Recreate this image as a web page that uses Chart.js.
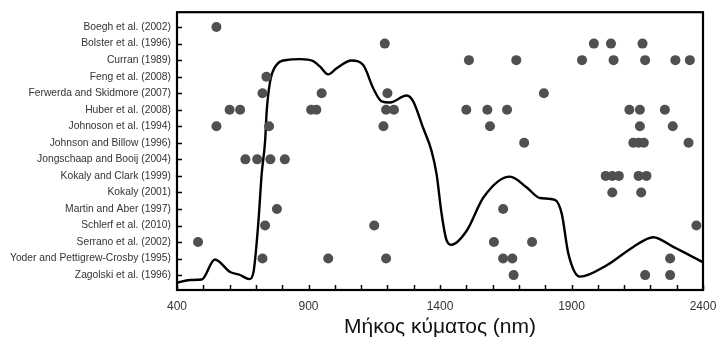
<!DOCTYPE html>
<html>
<head>
<meta charset="utf-8">
<script src="https://cdn.jsdelivr.net/npm/chart.js@4.4.1/dist/chart.umd.min.js"></script>
<style>
  html, body { margin: 0; padding: 0; background: #fff; }
  #wrap { width: 716px; height: 341px; }
</style>
</head>
<body>
<div id="wrap"><canvas id="bandsChart"></canvas></div>
<script>
// Studies (rows, top to bottom)
var studies = [
    'Boegh et al. (2002)',
    'Bolster et al. (1996)',
    'Curran (1989)',
    'Feng et al. (2008)',
    'Ferwerda and Skidmore (2007)',
    'Huber et al. (2008)',
    'Johnoson et al. (1994)',
    'Johnson and Billow (1996)',
    'Jongschaap and Booij (2004)',
    'Kokaly and Clark (1999)',
    'Kokaly (2001)',
    'Martin and Aber (1997)',
    'Schlerf et al. (2010)',
    'Serrano et al. (2002)',
    'Yoder and Pettigrew-Crosby (1995)',
    'Zagolski et al. (1996)'
];

// Wavelengths (nm) used by each study, same order as studies
var bands = [
    [550],
    [1190, 1985, 2050, 2170],
    [1510, 1690, 1940, 2060, 2180, 2295, 2350],
    [740],
    [725, 950, 1200, 1795],
    [600, 640, 910, 930, 1195, 1225, 1500, 1580, 1655, 2120, 2160, 2255],
    [550, 750, 1185, 1590, 2160, 2285],
    [1720, 2135, 2155, 2175, 2345],
    [660, 705, 755, 810],
    [2030, 2055, 2080, 2155, 2185],
    [2055, 2165],
    [780, 1640],
    [735, 1150, 2375],
    [480, 1605, 1750],
    [725, 975, 1195, 1640, 1675, 2275],
    [1680, 2180, 2275]
];

// Typical vegetation reflectance spectrum (relative units)
var curveWavelength = [400, 449, 494, 544, 602, 640, 675, 690, 709, 722, 735, 741, 754, 779, 817, 868, 918, 944, 975, 1007, 1064, 1108, 1146, 1178, 1210, 1273, 1298, 1336, 1368, 1387, 1406, 1425, 1444, 1502, 1565, 1666, 1730, 1780, 1837, 1863, 1888, 1932, 2034, 2135, 2211, 2287, 2400];
var curveReflectance = [0.026, 0.036, 0.038, 0.110, 0.065, 0.054, 0.039, 0.060, 0.239, 0.418, 0.536, 0.643, 0.750, 0.811, 0.828, 0.831, 0.824, 0.804, 0.776, 0.798, 0.826, 0.810, 0.726, 0.679, 0.675, 0.700, 0.679, 0.583, 0.500, 0.417, 0.275, 0.179, 0.163, 0.214, 0.333, 0.408, 0.369, 0.331, 0.324, 0.274, 0.131, 0.048, 0.089, 0.155, 0.190, 0.155, 0.100];

var xLabels = [400, 900, 1400, 1900, 2400];

var pointData = [];
bands.forEach(function(list, row) {
    list.forEach(function(nm) {
        pointData.push({ x: nm, y: row });
    });
});

var curveData = curveWavelength.map(function(nm, i) {
    return { x: nm, y: curveReflectance[i] };
});

// box around the plot and short ticks pointing inward
var frameTicks = {
    id: 'frameTicks',
    beforeDatasetsDraw: function(chart) {
        var ctx = chart.ctx;
        var a = chart.chartArea;
        var xs = chart.scales.x;
        var ys = chart.scales.y;
        ctx.save();
        ctx.strokeStyle = '#000';
        ctx.lineWidth = 1.5;
        xs.ticks.forEach(function(t) {
            var px = Math.round(xs.getPixelForValue(t.value)) + 0.5;
            ctx.beginPath();
            ctx.moveTo(px, a.bottom);
            ctx.lineTo(px, a.bottom - 5);
            ctx.stroke();
        });
        ys.ticks.forEach(function(t) {
            var py = Math.round(ys.getPixelForValue(t.value)) + 0.5;
            ctx.beginPath();
            ctx.moveTo(a.left, py);
            ctx.lineTo(a.left + 5, py);
            ctx.stroke();
        });
        ctx.lineWidth = 2.2;
        ctx.strokeRect(a.left, a.top, a.right - a.left, a.bottom - a.top);
        ctx.restore();
    }
};

var ctx = document.getElementById('bandsChart').getContext('2d');

var bandsChart = new Chart(ctx, {
    data: {
        datasets: [{
            type: 'scatter',
            label: 'Bands',
            data: pointData,
            backgroundColor: '#505050',
            borderWidth: 0,
            pointRadius: 5,
            pointHoverRadius: 5,
            yAxisID: 'y',
            order: 1
        }, {
            type: 'line',
            label: 'Reflectance',
            data: curveData,
            borderColor: '#000',
            borderWidth: 2.4,
            pointRadius: 0,
            fill: false,
            cubicInterpolationMode: 'monotone',
            yAxisID: 'y2',
            order: 2
        }]
    },
    options: {
        responsive: true,
        maintainAspectRatio: false,
        animation: false,
        layout: { padding: { top: 10, right: 0, left: 0, bottom: 0 } },
        plugins: {
            legend: { display: false },
            tooltip: { enabled: false }
        },
        scales: {
            x: {
                type: 'linear',
                position: 'bottom',
                min: 400,
                max: 2400,
                grid: { display: false, drawTicks: false },
                border: { display: false },
                afterBuildTicks: function(scale) {
                    var t = [];
                    for (var v = 400; v <= 2400; v += 100) t.push({ value: v });
                    scale.ticks = t;
                },
                afterFit: function(scale) {
                    scale.height = 51;
                    scale.paddingLeft = 0;
                    scale.paddingRight = 13;
                },
                ticks: {
                    autoSkip: false,
                    maxRotation: 0,
                    padding: 9,
                    color: '#333',
                    font: { family: 'Liberation Sans, Arial, sans-serif', size: 12 },
                    callback: function(v) {
                        return xLabels.indexOf(v) >= 0 ? String(v) : '';
                    }
                },
                title: {
                    display: true,
                    text: 'Μήκος κύματος (nm)',
                    color: '#111',
                    padding: { top: 0, bottom: 1 },
                    font: { family: 'Liberation Sans, Arial, sans-serif', size: 21 }
                }
            },
            y: {
                type: 'linear',
                position: 'left',
                reverse: true,
                min: -0.9,
                max: 15.9,
                grid: { display: false, drawTicks: false },
                border: { display: false },
                afterBuildTicks: function(scale) {
                    scale.ticks = studies.map(function(s, i) { return { value: i }; });
                },
                afterFit: function(scale) { scale.width = 177; },
                ticks: {
                    autoSkip: false,
                    padding: 6,
                    color: '#333',
                    font: { family: 'Liberation Sans, Arial, sans-serif', size: 10.3 },
                    callback: function(v) { return studies[v]; }
                }
            },
            y2: {
                type: 'linear',
                display: false,
                min: 0,
                max: 1
            }
        }
    },
    plugins: [frameTicks]
});
</script>
</body>
</html>
